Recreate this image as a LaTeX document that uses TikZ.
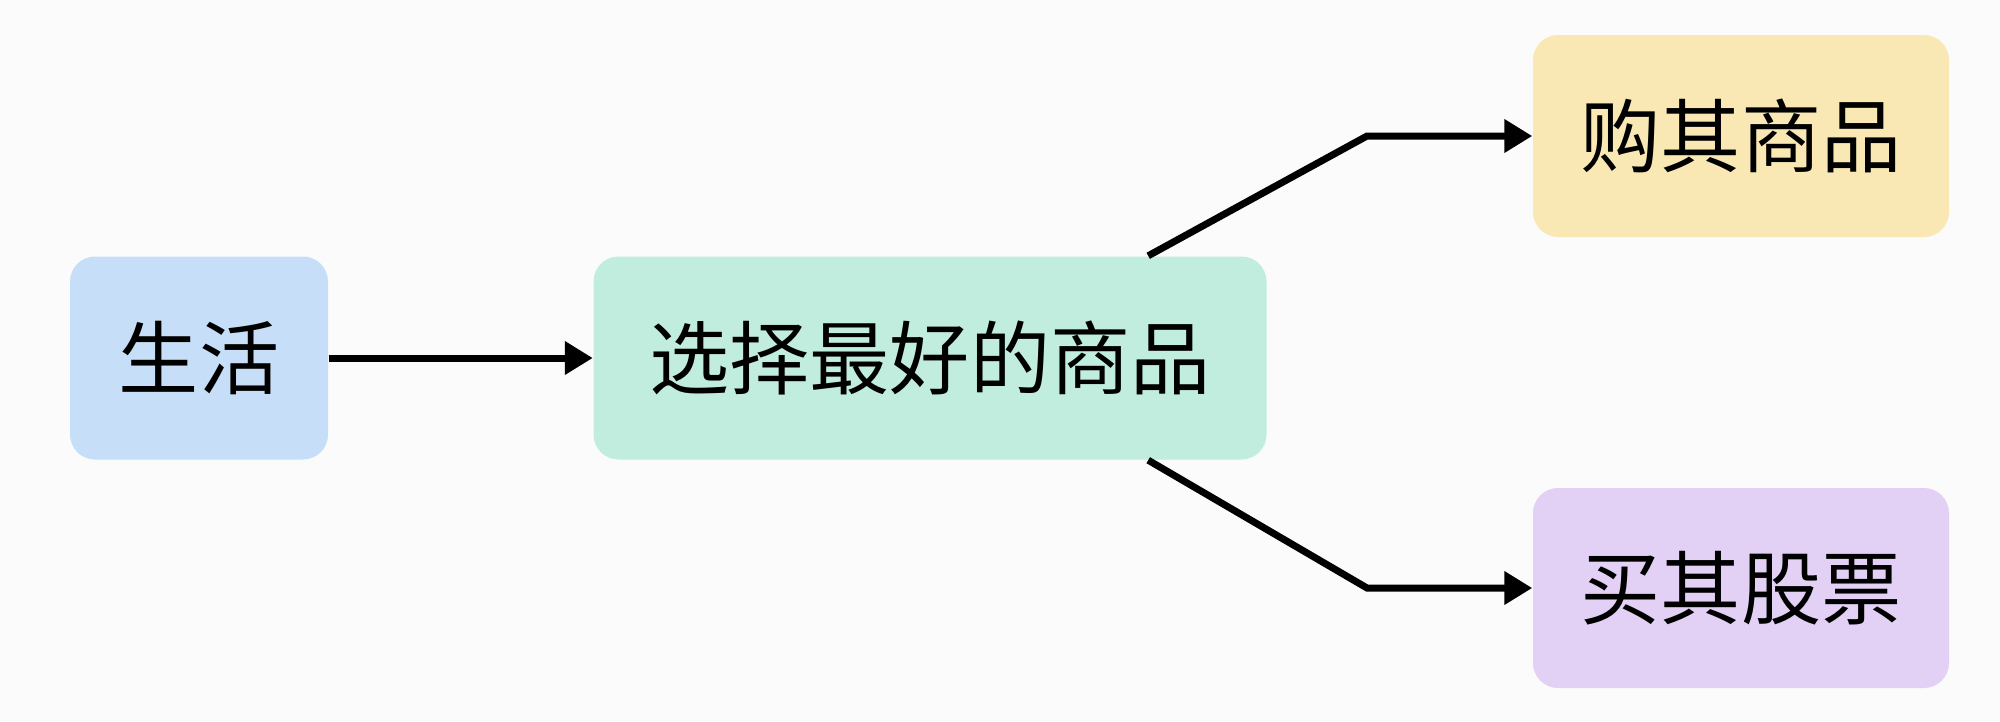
\documentclass[tikz,border=0pt]{standalone}
\usepackage{fontspec}
\setmainfont{Noto Sans CJK SC}
\usetikzlibrary{arrows.meta}

\definecolor{bgcol}{HTML}{FBFBFB}
\definecolor{lifecol}{HTML}{C6DEF7}
\definecolor{choosecol}{HTML}{C0EDDD}
\definecolor{buycol}{HTML}{FAE8B4}
\definecolor{stockcol}{HTML}{E3D0F5}

\tikzset{
  box/.style={rounded corners=0.25cm, inner sep=0pt, align=center,
    font=\fontsize{22.8}{26}\selectfont},
  link/.style={line width=0.07cm, -{Triangle[length=0.28cm,width=0.32cm]}}
}

\begin{document}
\begin{tikzpicture}

\fill[bgcol] (0,0) rectangle (20,-7.21);
\useasboundingbox (0,0) rectangle (20,-7.21);

\node[box, fill=lifecol, minimum width=2.58cm, minimum height=2.03cm] (life) at (1.99,-3.58) {生活};
\node[box, fill=choosecol, minimum width=6.73cm, minimum height=2.03cm] (choose) at (9.30,-3.58) {选择最好的商品};
\node[box, fill=buycol, minimum width=4.16cm, minimum height=2.02cm] (buy) at (17.41,-1.36) {购其商品};
\node[box, fill=stockcol, minimum width=4.16cm, minimum height=2.00cm] (stock) at (17.41,-5.88) {买其股票};

\coordinate (upbend) at (13.67,-1.36);
\coordinate (downbend) at (13.67,-5.88);

\draw[link] (life) -- (choose);
\draw[link, line join=miter] ([xshift=-1.19cm]choose.north east) -- (upbend) -- (buy);
\draw[link, line join=miter] ([xshift=-1.19cm]choose.south east) -- (downbend) -- (stock);
\end{tikzpicture}
\end{document}
